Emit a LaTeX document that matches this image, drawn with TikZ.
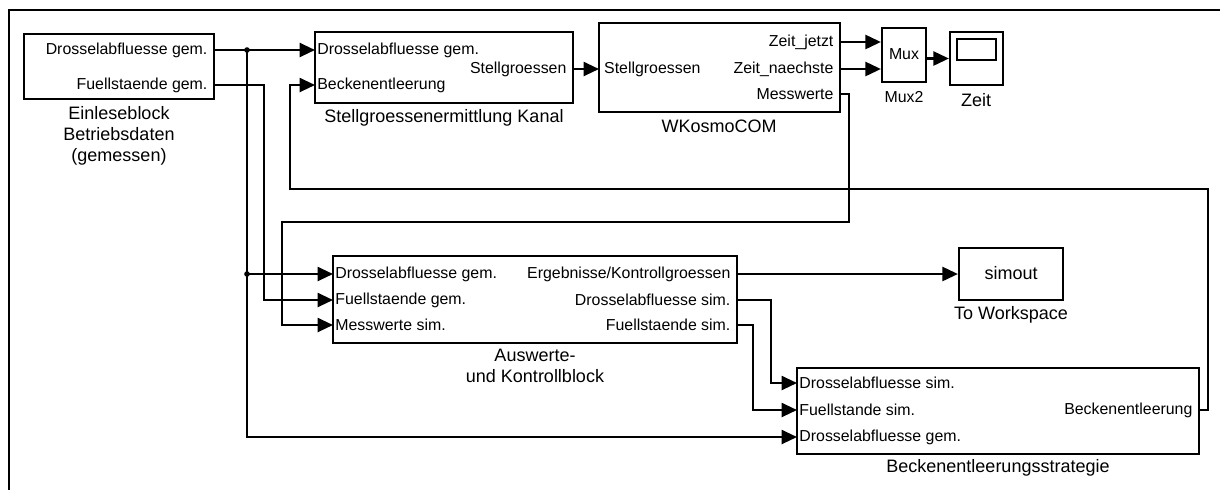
\documentclass[tikz,border=0pt]{standalone}
\usepackage{fontspec}
\setmainfont{Liberation Sans}
\usetikzlibrary{arrows.meta,fit}

\tikzset{
  block/.style={draw, line width=1.6pt, inner sep=0pt},
  port/.style={font=\fontsize{11.3}{13}\selectfont, inner ysep=0pt},
  inport/.style={port, anchor=west, inner xsep=1.5pt},
  outport/.style={port, anchor=east, inner xsep=4.5pt},
  lbl/.style={font=\fontsize{12.8}{15}\selectfont, align=center, inner sep=0pt},
  wire/.style={line width=1.6pt},
  sig/.style={wire, -{Triangle[length=11pt,width=10pt]}},
}

\begin{document}
\begin{tikzpicture}[x=0.025cm, y=-0.025cm]
        % Rahmen
        \clip (0,0) rectangle (1220,489);
        \draw[wire] (1230,10) -- (9,10) -- (9,500);
        % Einleseblock
        \node[block, fit={(24,34) (214,99)}] (ein) {};
        \node[outport] (ein-o1) at (214,50) {Drosselabfluesse gem.};
        \node[outport] (ein-o2) at (214,85) {Fuellstaende gem.};
        \node[lbl] (ein-lbl) at (119,136) {Einleseblock\\Betriebsdaten\\(gemessen)};
        % Stellgroessenermittlung
        \node[block, fit={(315,32) (573,103)}] (stell) {};
        \node[inport] (stell-i1) at (315,50) {Drosselabfluesse gem.};
        \node[inport] (stell-i2) at (315,85) {Beckenentleerung};
        \node[outport] (stell-o1) at (573,69) {Stellgroessen};
        \node[lbl] (stell-lbl) at (444,118) {Stellgroessenermittlung Kanal};
        % WKosmoCOM
        \node[block, fit={(599,23) (840,112)}] (wk) {};
        \node[inport, inner xsep=3.5pt] (wk-i1) at (599,69) {Stellgroessen};
        \node[outport] (wk-o1) at (840,42) {Zeit\_jetzt};
        \node[outport] (wk-o2) at (840,69) {Zeit\_naechste};
        \node[outport] (wk-o3) at (840,94) {Messwerte};
        \node[lbl] (wk-lbl) at (719,126) {WKosmoCOM};
        % Mux und Scope
        \node[block, fit={(882,28) (926,82)}] (mux) {};
        \node[port] (mux-txt) at (904,54) {Mux};
        \node[port] (mux-lbl) at (904,97) {Mux2};
        \node[block, fit={(950,32) (1003,85)}] (zeit) {};
        \node[block, fit={(957,39) (996,60)}] (zeit-bild) {};
        \node[lbl] (zeit-lbl) at (976,100) {Zeit};
        % Auswerte- und Kontrollblock
        \node[block, fit={(333,256) (737,343)}] (ausw) {};
        \node[inport] (ausw-i1) at (333,274) {Drosselabfluesse gem.};
        \node[inport] (ausw-i2) at (333,300) {Fuellstaende gem.};
        \node[inport] (ausw-i3) at (333,325) {Messwerte sim.};
        \node[outport] (ausw-o1) at (737,274) {Ergebnisse/Kontrollgroessen};
        \node[outport] (ausw-o2) at (737,300) {Drosselabfluesse sim.};
        \node[outport] (ausw-o3) at (737,325) {Fuellstaende sim.};
        \node[lbl] (ausw-lbl) at (535,366) {Auswerte-\\und Kontrollblock};
        % To Workspace
        \node[block, fit={(959,248) (1063,300)}] (sim) {};
        \node[lbl] (sim-txt) at (1011,273) {simout};
        \node[lbl] (sim-lbl) at (1011,315) {To Workspace};
        % Beckenentleerungsstrategie
        \node[block, fit={(797,368) (1199,454)}] (strat) {};
        \node[inport] (strat-i1) at (797,383) {Drosselabfluesse sim.};
        \node[inport] (strat-i2) at (797,410) {Fuellstande sim.};
        \node[inport] (strat-i3) at (797,437) {Drosselabfluesse gem.};
        \node[outport] (strat-o1) at (1199,410) {Beckenentleerung};
        \node[lbl] (strat-lbl) at (998,468) {Beckenentleerungsstrategie};
        % Verbindungen
        \coordinate (j1) at (247,50);
        \coordinate (j2) at (247,274);
        \draw[sig] (ein-o1.east) -- (stell-i1.west);
        \draw[sig] (j1) |- (strat-i3.west);
        \draw[sig] (j2) -- (ausw-i1.west);
        \fill (j1) circle (2pt) (j2) circle (2pt);
        \draw[sig] (ein-o2.east) -- ++(50,0) |- (ausw-i2.west);
        \draw[sig] (stell-o1.east) -- (wk-i1.west);
        \draw[sig] (wk-o1.east) -- (wk-o1.east -| mux.west);
        \draw[sig] (wk-o2.east) -- (wk-o2.east -| mux.west);
        \draw[sig] (mux.east |- zeit.west) -- (zeit.west);
        \coordinate (mess) at (282,222);
        \draw[sig] (wk-o3.east) -- ++(9,0) |- (mess) |- (ausw-i3.west);
        \draw[sig] (ausw-o1.east) -- (sim.west |- ausw-o1.east);
        \draw[sig] (ausw-o2.east) -- ++(34,0) |- (strat-i1.west);
        \draw[sig] (ausw-o3.east) -- ++(16,0) |- (strat-i2.west);
        % Rueckfuehrung Beckenentleerung
        \coordinate (rueck) at (290,189);
        \draw[sig] (strat-o1.east) -- ++(9,0) |- (rueck) |- (stell-i2.west);
\end{tikzpicture}
\end{document}
